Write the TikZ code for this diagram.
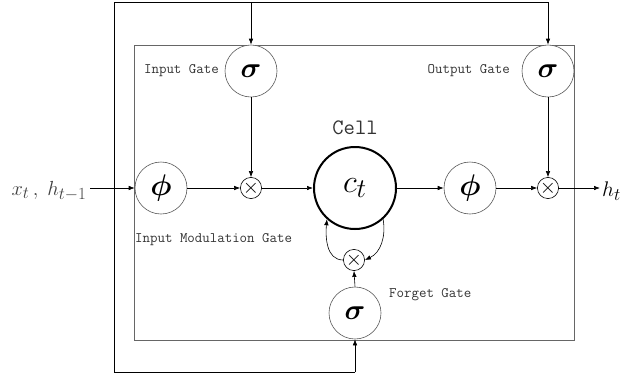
\documentclass[tikz,border=0pt]{standalone}
\usepackage{fontspec}
\usepackage{bm}
\usepackage{graphicx}
\usetikzlibrary{arrows.meta}
\newcommand{\bigmath}[2]{\scalebox{#1}{\fontsize{24.88}{25}\selectfont$#2$}}
\begin{document}
\begin{tikzpicture}[x=1pt,y=-1pt,
  gate/.style={circle,draw=black!65,line width=0.6pt,fill=white,minimum size=52pt,inner sep=0pt},
  mult/.style={circle,draw=black,line width=0.6pt,fill=white,minimum size=16pt,inner sep=0pt,font=\fontsize{20}{20}\selectfont},
  arr/.style={-{Latex[length=6pt,width=4.5pt]},line width=0.6pt},
  loop/.style={line width=0.8pt},
  lbl/.style={font=\ttfamily\fontsize{14.5}{14.5}\selectfont,text=black!80,inner sep=0pt}]
\useasboundingbox (0,0) rectangle (632,381);
\draw[black!60,line width=0.8pt] (134,45) rectangle (574,340);
% nodes
\node[gate] (ig) at (251,71) {\bigmath{1.15}{\bm\sigma}};
\node[gate] (og) at (548,71) {\bigmath{1.15}{\bm\sigma}};
\node[gate] (ph1) at (161,188) {\bigmath{1.2}{\bm\phi}};
\node[gate] (ph2) at (470,188) {\bigmath{1.2}{\bm\phi}};
\node[gate] (fg) at (355,313) {\bigmath{1.15}{\bm\sigma}};
\node[circle,draw=black,line width=2pt,fill=white,minimum size=82pt,inner sep=0pt] (cell) at (355,188) {\bigmath{1.3}{c_t}};
\node[mult] (m1) at (251,188) {$\times$};
\node[mult] (m2) at (548,188) {$\times$};
\node[mult] (fm) at (354,260) {$\times$};
% labels
\node[lbl,anchor=east] (lig) at (219,71) {Input Gate};
\node[lbl,anchor=east] (log) at (510,71) {Output Gate};
\node[lbl,anchor=west] (lim) at (135,240) {Input Modulation Gate};
\node[lbl,anchor=west] (lfg) at (389,295) {Forget Gate};
\node[font=\ttfamily\fontsize{22}{22}\selectfont,text=black!80,inner sep=0pt] (lcell) at (355,128) {Cell};
\node[text=black!75,inner sep=0pt] (xin) at (49,191) {\bigmath{0.82}{x_{t}\,,\; h_{t-1}}};
\node[inner sep=0pt,anchor=west] (hout) at (602,191) {\bigmath{0.85}{h_t}};
% coordinates of loop
\coordinate (in) at (90,188);
\coordinate (out) at (600,188);
\coordinate (tl) at (114,2);
\coordinate (ti) at (251,2);
\coordinate (tr) at (548,2);
\coordinate (bl) at (114,372);
\coordinate (br) at (355,372);
% loop
\draw[loop] (br) -- (bl) -- (tl) -- (tr);
\draw[arr] (ti) -- (ig.north);
\draw[arr] (tr) -- (og.north);
\draw[arr] (br) -- (fg.south);
% main flow
\draw[arr] (in) -- (ph1.west);
\draw[arr] (ph1.east) -- (m1.west);
\draw[arr] (m1.east) -- (cell.west);
\draw[arr] (cell.east) -- (ph2.west);
\draw[arr] (ph2.east) -- (m2.west);
\draw[arr] (m2.east) -- (out);
\draw[arr] (ig.south) -- (m1.north);
\draw[arr] (og.south) -- (m2.north);
\draw[arr] (fg.north) -- (fm.south);
% cell recurrence
\draw[arr] (fm.west) to[out=180,in=-95] (cell.-132);
\draw[arr] (cell.-48) to[out=-80,in=25] (fm.east);
\end{tikzpicture}
\end{document}
